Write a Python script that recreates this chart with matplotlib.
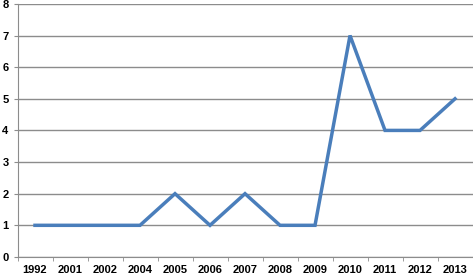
import numpy as np
import matplotlib.pyplot as plt

years = ['1992', '2001', '2002', '2004', '2005', '2006', '2007',
         '2008', '2009', '2010', '2011', '2012', '2013']
counts = [1, 1, 1, 1, 2, 1, 2, 1, 1, 7, 4, 4, 5]

plt.rcParams['font.family'] = ['Liberation Sans', 'DejaVu Sans']

fig = plt.figure(figsize=(4.73, 2.76), dpi=100)
ax = fig.add_axes([0.037, 0.069, 0.962, 0.917])

x = np.arange(len(years))
ax.plot(x, counts, color='#4a7ebb', linewidth=2.5, solid_joinstyle='miter')

ax.set_xlim(-0.5, len(years) - 0.5)
ax.set_ylim(0, 8)
ax.set_yticks(range(0, 9))
ax.yaxis.grid(True, color='#8c8c8c', linewidth=1.0)
ax.set_axisbelow(True)

# category labels centred, tick marks between categories
ax.set_xticks(x)
ax.set_xticklabels(years, fontsize=8, fontweight='bold')
ax.set_xticks(np.arange(-0.5, len(years)), minor=True)
ax.tick_params(axis='x', which='major', length=0, pad=6)
ax.tick_params(axis='x', which='minor', length=3, color='#8c8c8c')
ax.tick_params(axis='y', length=3, color='#8c8c8c', pad=3.5, labelsize=8)
for lab in ax.get_yticklabels():
    lab.set_fontweight('bold')

for side in ['top', 'right']:
    ax.spines[side].set_visible(False)
for side in ['left', 'bottom']:
    ax.spines[side].set_color('#8c8c8c')

fig.savefig('out.png', dpi=100)
